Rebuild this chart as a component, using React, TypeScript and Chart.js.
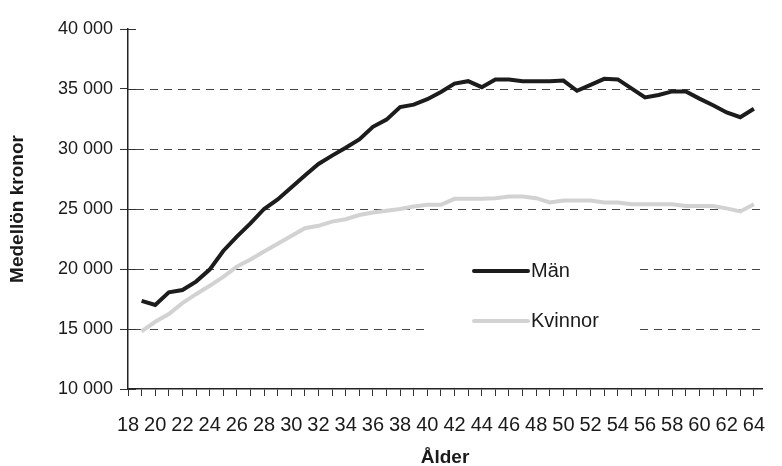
import React, { useEffect, useRef } from 'react';
import { Chart, registerables } from 'chart.js';

Chart.register(...registerables);

// Ålder (age)
const ages = [19, 20, 21, 22, 23, 24, 25, 26, 27, 28, 29, 30, 31, 32, 33, 34, 35, 36, 37, 38, 39, 40, 41, 42, 43, 44, 45, 46, 47, 48, 49, 50, 51, 52, 53, 54, 55, 56, 57, 58, 59, 60, 61, 62, 63, 64];

// Medellön kronor – Män
const men = [17350, 17000, 18050, 18250, 18950, 19950, 21500, 22700, 23800, 25000, 25800, 26800, 27800, 28750, 29450, 30100, 30800, 31850, 32450, 33500, 33700, 34150, 34750, 35450, 35650, 35150, 35800, 35800, 35650, 35650, 35650, 35700, 34850, 35350, 35850, 35800, 35050, 34300, 34500, 34800, 34800, 34200, 33650, 33050, 32650, 33350];

// Medellön kronor – Kvinnor
const women = [14800, 15600, 16250, 17150, 17900, 18600, 19350, 20200, 20800, 21450, 22100, 22750, 23400, 23600, 23950, 24150, 24500, 24700, 24850, 25000, 25200, 25350, 25350, 25850, 25850, 25850, 25900, 26050, 26050, 25900, 25550, 25700, 25700, 25700, 25550, 25550, 25400, 25400, 25400, 25400, 25250, 25250, 25250, 25050, 24800, 25400];

const seriesNames = ['Män', 'Kvinnor'];
const seriesColors = ['#1c1c1c', '#d2d2d2'];

const yMin = 10000;
const yMax = 40000;
const yStep = 5000;
const xMin = 18;
const xMax = 64.6;

const xTitle = 'Ålder';
const yTitle = 'Medellön kronor';

const narrow = '"Liberation Sans Narrow", "Liberation Sans", Arial, sans-serif';
const regular = '"Liberation Sans", Arial, sans-serif';

const formatThousands = (v: number) => {
  const s = String(Math.round(v));
  return s.replace(/\B(?=(\d{3})+(?!\d))/g, ' ');
};

const gridPlugin = {
  id: 'dashGrid',
  beforeDatasetsDraw(chart: any) {
    const { ctx, chartArea, scales } = chart;
    const y = scales.y;
    ctx.save();
    ctx.strokeStyle = '#444';
    ctx.lineWidth = 1;
    ctx.setLineDash([8, 6]);
    y.ticks.forEach((t: any) => {
      if (t.value <= y.min || t.value >= y.max) return;
      const py = Math.round(y.getPixelForValue(t.value)) + 0.5;
      ctx.beginPath();
      ctx.moveTo(chartArea.left + 8, py);
      ctx.lineTo(chartArea.right, py);
      ctx.stroke();
    });
    ctx.setLineDash([]);
    ctx.strokeStyle = '#333';
    y.ticks.forEach((t: any) => {
      const py = Math.round(y.getPixelForValue(t.value)) + 0.5;
      ctx.beginPath();
      ctx.moveTo(chartArea.left, py);
      ctx.lineTo(chartArea.left + 8, py);
      ctx.stroke();
    });
    ctx.restore();
  },
};

const legendPlugin = {
  id: 'innerLegend',
  afterDraw(chart: any) {
    const { ctx } = chart;
    ctx.save();
    ctx.fillStyle = '#ffffff';
    ctx.fillRect(429, 245, 207, 105);
    const rows = [271, 321];
    chart.data.datasets.forEach((ds: any, i: number) => {
      const yy = rows[i];
      ctx.strokeStyle = ds.borderColor;
      ctx.lineWidth = 4;
      ctx.lineCap = 'round';
      ctx.beginPath();
      ctx.moveTo(474, yy);
      ctx.lineTo(528, yy);
      ctx.stroke();
      ctx.fillStyle = '#1a1a1a';
      ctx.font = '20px ' + narrow;
      ctx.textBaseline = 'middle';
      ctx.textAlign = 'left';
      ctx.fillText(ds.label, 531, yy);
    });
    ctx.restore();
  },
};

export default function App() {
  const ref = useRef<HTMLCanvasElement | null>(null);

  useEffect(() => {
    if (!ref.current) return;
    const chart = new Chart(ref.current, {
      type: 'line',
      data: {
        datasets: [
          {
            label: seriesNames[0],
            data: ages.map((a, i) => ({ x: a, y: men[i] })),
            borderColor: seriesColors[0],
            borderWidth: 4,
            pointRadius: 0,
            tension: 0,
            fill: false,
          },
          {
            label: seriesNames[1],
            data: ages.map((a, i) => ({ x: a, y: women[i] })),
            borderColor: seriesColors[1],
            borderWidth: 4,
            pointRadius: 0,
            tension: 0,
            fill: false,
          },
        ],
      },
      options: {
        animation: false,
        responsive: true,
        maintainAspectRatio: false,
        layout: { padding: { top: 29, right: 0, bottom: 0, left: 0 } },
        plugins: {
          legend: { display: false },
          tooltip: { enabled: false },
        },
        scales: {
          x: {
            type: 'linear',
            min: xMin,
            max: xMax,
            afterFit: (s: any) => {
              s.height = 77;
            },
            border: { display: true, color: '#222', width: 1.5 },
            grid: {
              display: true,
              drawOnChartArea: false,
              drawTicks: true,
              tickLength: 7,
              color: '#333',
            },
            ticks: {
              stepSize: 1,
              includeBounds: false,
              autoSkip: false,
              maxRotation: 0,
              minRotation: 0,
              padding: 17,
              color: '#1a1a1a',
              font: { family: narrow, size: 20 },
              callback: (v: any) => (Number(v) % 2 === 0 ? String(v) : ''),
            },
            title: {
              display: true,
              text: xTitle,
              color: '#1a1a1a',
              font: { family: regular, size: 19, weight: 'bold' },
              padding: { top: 0, bottom: -3 },
            },
          },
          y: {
            min: yMin,
            max: yMax,
            afterFit: (s: any) => {
              s.width = 128;
            },
            border: { display: true, color: '#222', width: 1.5 },
            grid: {
              display: true,
              drawOnChartArea: false,
              drawTicks: true,
              tickLength: 8,
              color: '#333',
            },
            ticks: {
              stepSize: yStep,
              padding: 7,
              color: '#1a1a1a',
              font: { family: regular, size: 18 },
              callback: (v: any) => formatThousands(Number(v)),
            },
            title: {
              display: true,
              text: yTitle,
              color: '#1a1a1a',
              font: { family: regular, size: 19, weight: 'bold' },
              padding: { top: 6, bottom: 0 },
            },
          },
        },
      },
      plugins: [gridPlugin, legendPlugin],
    });
    return () => chart.destroy();
  }, []);

  return (
    <div style={{ position: 'fixed', left: 0, top: 0, width: 782, height: 466, background: '#fff' }}>
      <canvas ref={ref} />
    </div>
  );
}
